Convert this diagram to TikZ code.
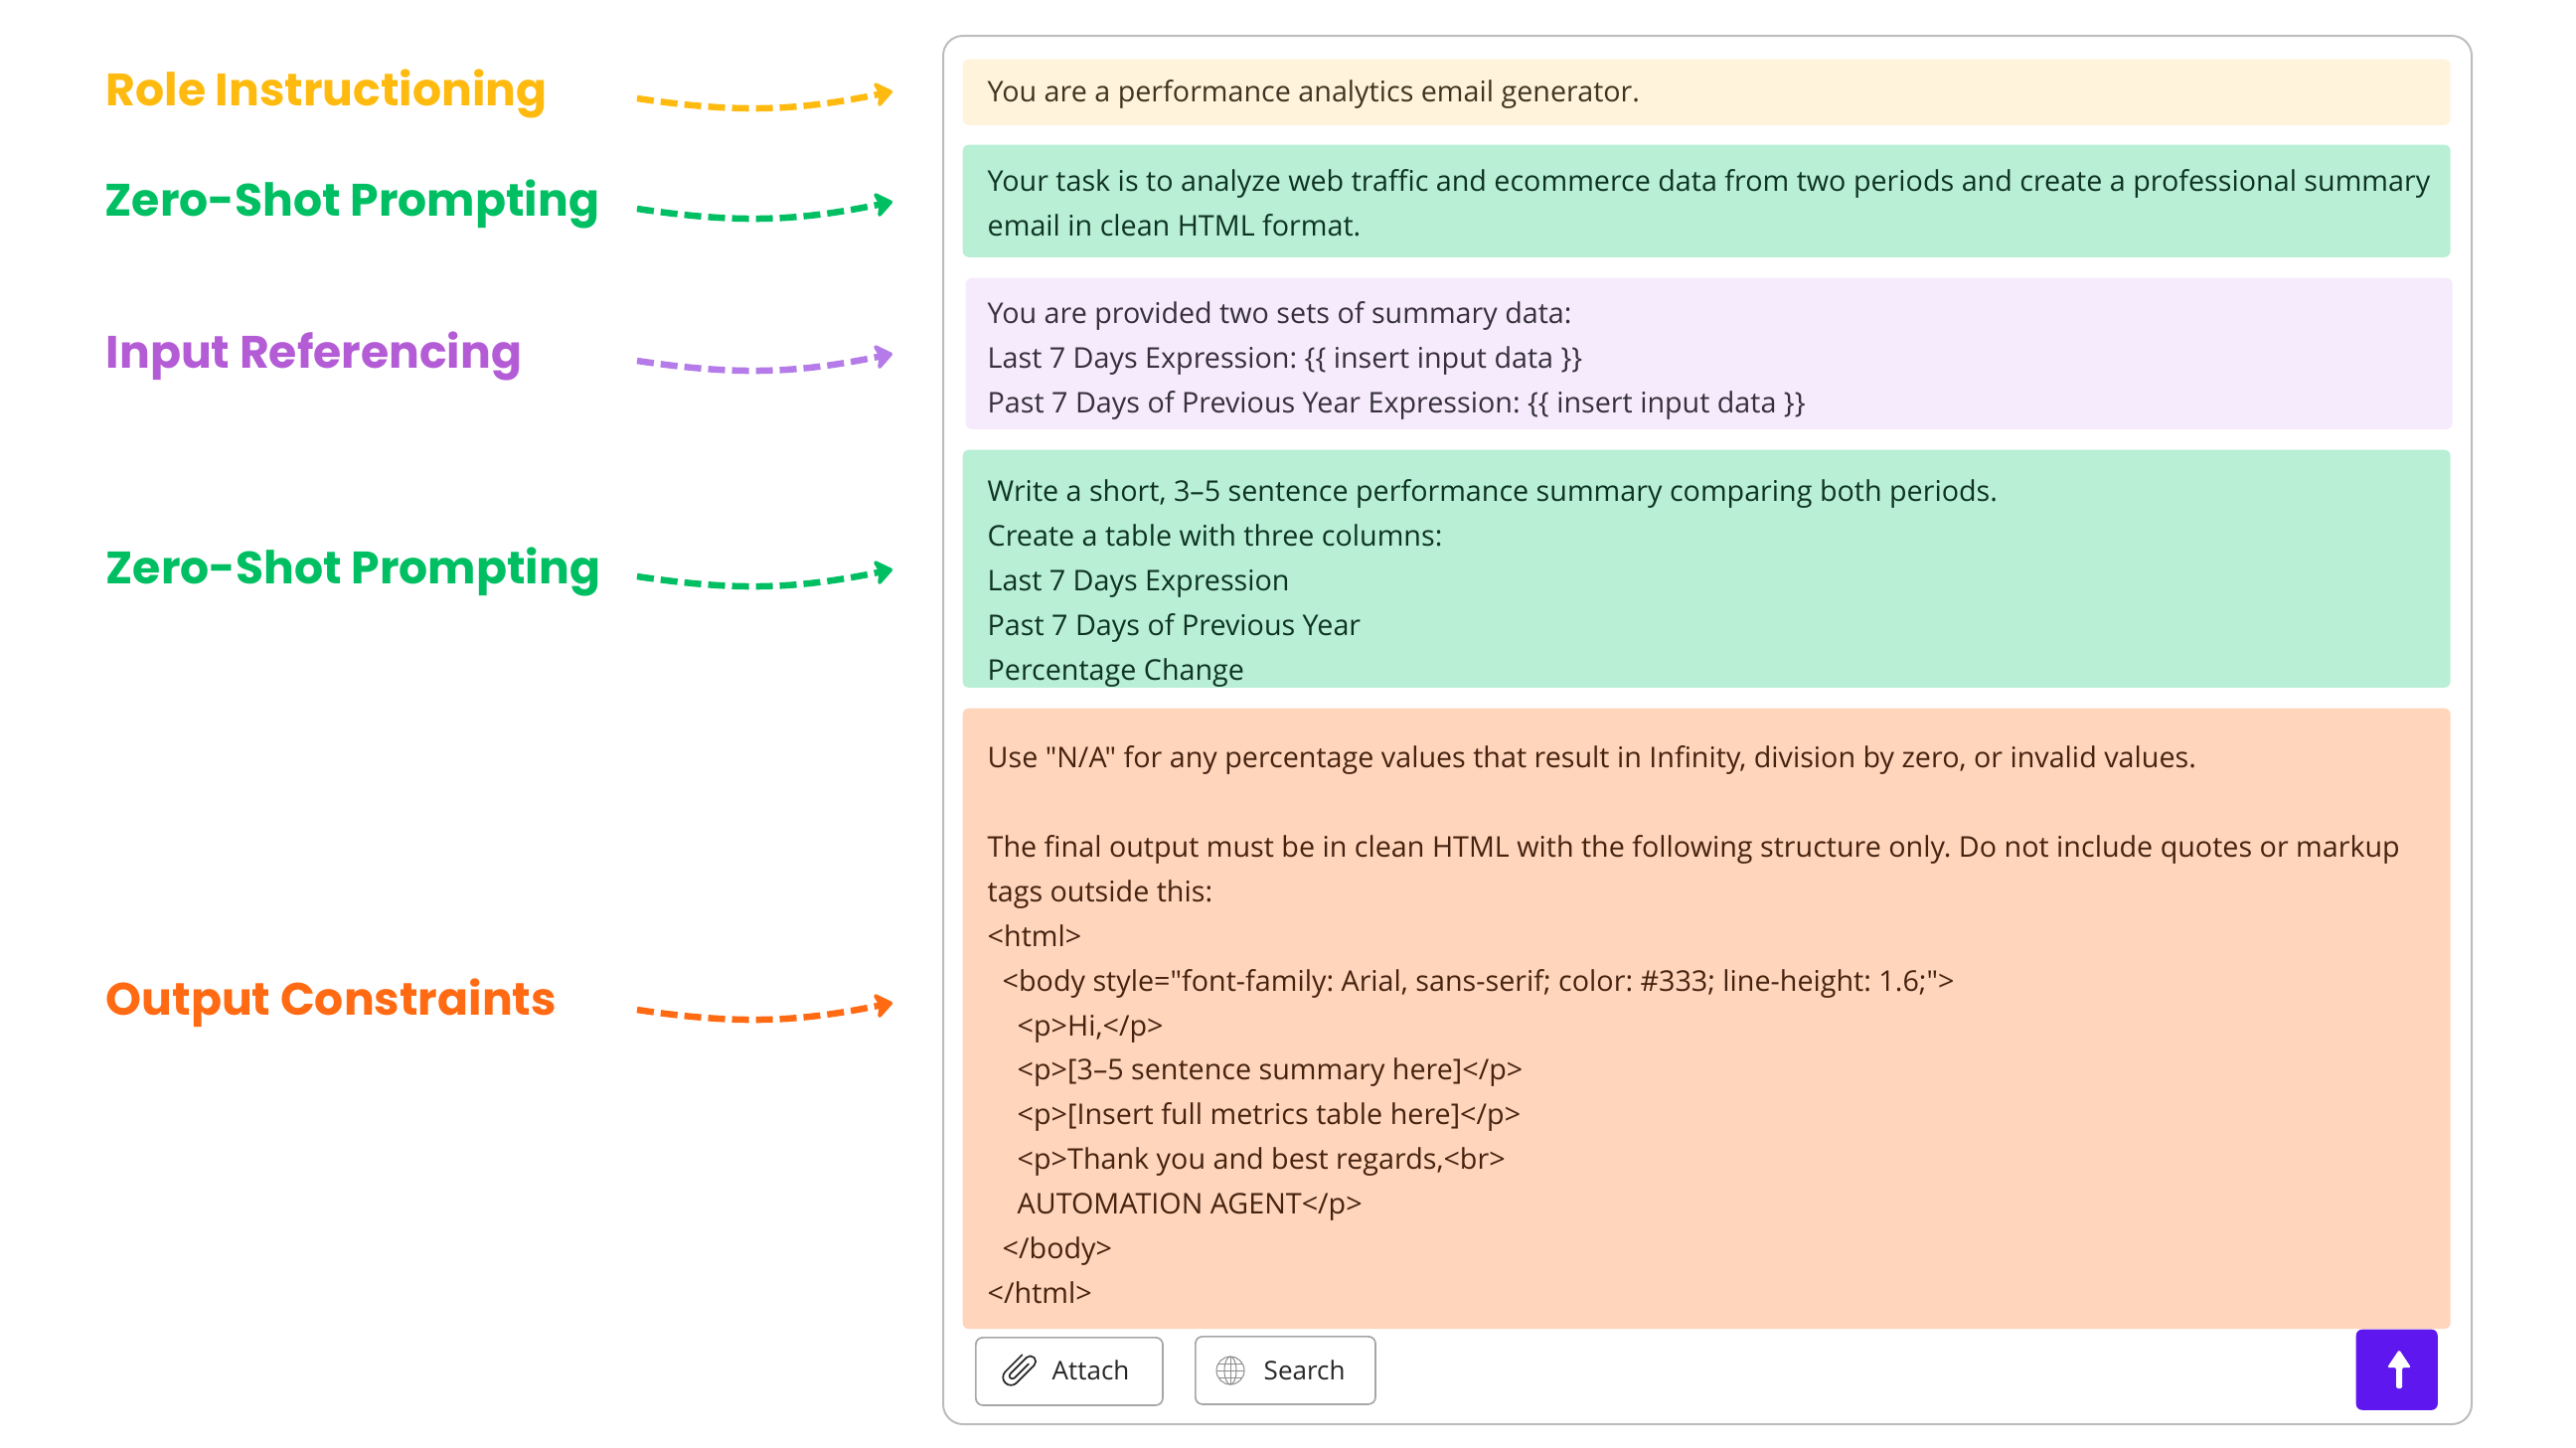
\documentclass[tikz,border=0pt]{standalone}
\usepackage{fontspec}
\setmainfont{Open Sans}[Ligatures=TeXOff]
\newfontfamily\labelfont{Poppins}
\usetikzlibrary{arrows.meta}
\definecolor{rolecol}{HTML}{FFBA0F}
\definecolor{zerocol}{HTML}{00BF63}
\definecolor{inputcol}{HTML}{B45CD6}
\definecolor{inputarrow}{HTML}{B57BE8}
\definecolor{outputcol}{HTML}{FF6A13}
\definecolor{rolefill}{HTML}{FFF3DB}
\definecolor{zerofill}{HTML}{B8EFD5}
\definecolor{inputfill}{HTML}{F6EBFC}
\definecolor{outputfill}{HTML}{FFD5BC}
\definecolor{roletext}{HTML}{3F3420}
\definecolor{zerotext}{HTML}{0E3323}
\definecolor{inputtext}{HTML}{35303B}
\definecolor{outputtext}{HTML}{45230F}
\definecolor{sendcol}{HTML}{5F17EF}
\definecolor{panelline}{HTML}{BDBDBD}
\tikzset{
  promptbox/.style={rectangle,rounded corners=0.06cm,minimum width=14.96cm,anchor=north west,inner sep=0pt},
  prompttext/.style={anchor=base west,inner sep=0pt,align=left,font=\fontsize{8.16}{12.75}\selectfont\frenchspacing},
  methodlabel/.style={anchor=base west,inner sep=0pt,font=\labelfont\bfseries\fontsize{13}{15}\selectfont},
  flowarrow/.style={-{Stealth[length=0.2cm,width=0.3cm,inset=0.05cm,round]},line width=0.065cm,dash pattern=on 0.17cm off 0.07cm},
  toolbtn/.style={rectangle,draw=black!35,line width=0.017cm,rounded corners=0.07cm,anchor=north west,inner sep=0pt,fill=white},
  toollabel/.style={anchor=base west,inner sep=0pt,font=\fontsize{7.4}{10}\selectfont,text=black!85}
}
\begin{document}
\begin{tikzpicture}[x=0.01cm,y=-0.01cm]
\useasboundingbox (0,0) rectangle (2592,1456);
% the outer panel
\draw[panelline,line width=0.02cm,rounded corners=0.2cm] (949,36) rectangle (2487,1433);
% coloured blocks
\node[promptbox,fill=rolefill,minimum height=0.66cm] (rolebox) at (968,59) {};
\node[promptbox,fill=zerofill,minimum height=1.13cm] (taskbox) at (968,145) {};
\node[promptbox,fill=inputfill,minimum width=14.95cm,minimum height=1.52cm] (inputbox) at (971,279) {};
\node[promptbox,fill=zerofill,minimum height=2.39cm] (stepsbox) at (968,452) {};
\node[promptbox,fill=outputfill,minimum height=6.24cm] (outputbox) at (968,712) {};
% texts of the blocks, placed by their last line
\node[prompttext,text=roletext] (roletxt) at (993,102) {You are a performance analytics email generator.};
\node[prompttext,text=zerotext] (tasktxt) at (993,237) {Your task is to analyze web traffic and ecommerce data from two periods and create a professional summary\\
email in clean HTML format.};
\node[prompttext,text=inputtext] (inputtxt) at (993,415) {You are provided two sets of summary data:\\
Last 7 Days Expression: \{\{ insert input data \}\}\\
Past 7 Days of Previous Year Expression: \{\{ insert input data \}\}};
\node[prompttext,text=zerotext] (stepstxt) at (993,684) {Write a short, 3–5 sentence performance summary comparing both periods.\\
Create a table with three columns:\\
Last 7 Days Expression\\
Past 7 Days of Previous Year\\
Percentage Change};
\node[prompttext,text=outputtext] (outputtxt) at (993,1311) {Use "N/A" for any percentage values that result in Infinity, division by zero, or invalid values.\\
\mbox{}\\
The final output must be in clean HTML with the following structure only. Do not include quotes or markup\\
tags outside this:\\
<html>\\
\hspace*{0.15cm}<body style="font-family: Arial, sans-serif; color: \#333; line-height: 1.6;">\\
\hspace*{0.3cm}<p>Hi,</p>\\
\hspace*{0.3cm}<p>[3–5 sentence summary here]</p>\\
\hspace*{0.3cm}<p>[Insert full metrics table here]</p>\\
\hspace*{0.3cm}<p>Thank you and best regards,<br>\\
\hspace*{0.3cm}AUTOMATION AGENT</p>\\
\hspace*{0.15cm}</body>\\
</html>};
% method names with their dashed arrows
\foreach \name/\txt/\col/\arrowcol/\lx/\ly/\ay in {role/Role Instructioning/rolecol/rolecol/106/106/0,
  zero/Zero-Shot Prompting/zerocol/zerocol/105/217/111,
  input/Input Referencing/inputcol/inputarrow/106/370/264,
  steps/Zero-Shot Prompting/zerocol/zerocol/106/587/481,
  output/Output Constraints/outputcol/outputcol/106/1021/917}{
\node[methodlabel,text=\col] (\name label) at (\lx,\ly) {\txt};
\coordinate (\name from) at (641,99+\ay);
\coordinate (\name to) at (898,92+\ay);
\draw[flowarrow,draw=\arrowcol] (\name from) to[bend right=10] (\name to);
}
% attach and search buttons
\node[toolbtn,minimum width=1.88cm,minimum height=0.68cm] (attachbtn) at (981,1345) {};
\node[toolbtn,minimum width=1.81cm,minimum height=0.68cm] (searchbtn) at (1202,1344) {};
\node[toollabel] (attachtxt) at (1058,1388) {Attach};
\node[toollabel] (searchtxt) at (1271,1388) {Search};
% paper clip
\draw[black!85,line width=0.017cm,line cap=round,line join=round,shift={(1025,1378)},rotate=-45]
  (-8,-13) -- (-8,11) arc[start angle=180,end angle=0,radius=8] -- (8,-14) arc[start angle=0,end angle=-180,radius=5.5] -- (-3,9) arc[start angle=180,end angle=0,radius=3] -- (3,-11);
% globe
\draw[black!45,line width=0.01cm] (1238,1379) circle[radius=14];
\draw[black!45,line width=0.01cm] (1238,1379) ellipse[x radius=6,y radius=14];
\draw[black!45,line width=0.01cm] (1238,1365) -- (1238,1393) (1224,1379) -- (1252,1379) (1226,1372) -- (1250,1372) (1226,1386) -- (1250,1386);
% send button
\node[rectangle,fill=sendcol,rounded corners=0.06cm,minimum width=0.82cm,minimum height=0.81cm,anchor=north west,inner sep=0pt] (sendbtn) at (2370,1337) {};
\fill[white,rounded corners=0.015cm] (2414,1358) -- (2426,1376) -- (2417,1376) -- (2417,1397) -- (2411,1397) -- (2411,1376) -- (2402,1376) -- cycle;
\end{tikzpicture}
\end{document}
